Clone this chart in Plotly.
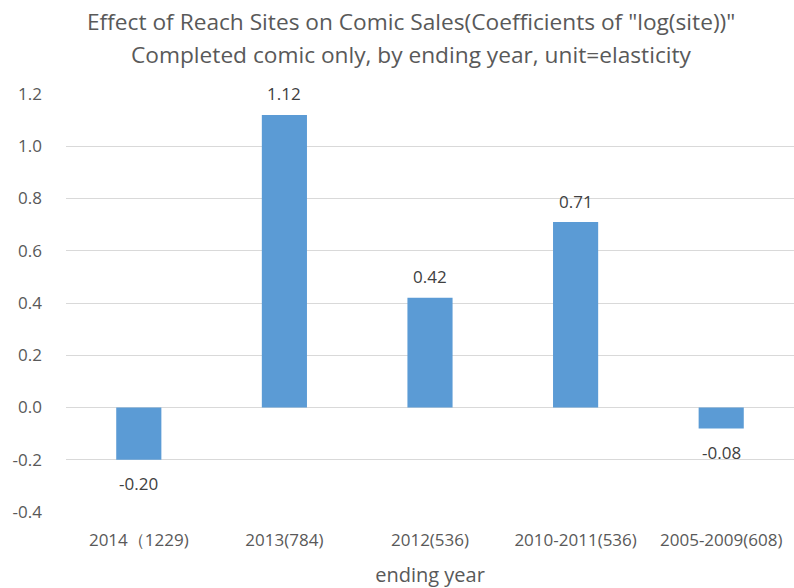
import plotly.graph_objects as go

categories = ["2014（1229)", "2013(784)", "2012(536)", "2010-2011(536)", "2005-2009(608)"]
values = [-0.20, 1.12, 0.42, 0.71, -0.08]
labels = ["-0.20", "1.12", "0.42", "0.71", "-0.08"]
y_ticks = [-0.4, -0.2, 0.0, 0.2, 0.4, 0.6, 0.8, 1.0, 1.2]
y_tick_labels = ["-0.4", "-0.2", "0.0", "0.2", "0.4", "0.6", "0.8", "1.0", "1.2"]
title_lines = [
    "Effect of Reach Sites on Comic Sales(Coefficients of \"log(site))\"",
    "Completed comic only, by ending year, unit=elasticity",
]

FONT = "Open Sans, Noto Sans, sans-serif"
GREY = "#595959"

fig = go.Figure(go.Bar(
    x=categories, y=values,
    marker=dict(color="#5B9BD5", line=dict(width=0)),
    width=0.31, hoverinfo="skip",
))

for cat, val, lab in zip(categories, values, labels):
    fig.add_annotation(
        x=cat, y=val, text=lab, showarrow=False,
        xanchor="center", yanchor="middle",
        yshift=21 if val >= 0 else -24,
        font=dict(size=17, color="#404040", family=FONT),
    )

for line, ypos in zip(title_lines, [1.174, 1.094]):
    fig.add_annotation(
        text=line, xref="paper", yref="paper", x=0.474, y=ypos,
        xanchor="center", yanchor="middle", showarrow=False,
        font=dict(size=22.7, color=GREY, family=FONT),
    )

fig.update_layout(
    width=794, height=588,
    margin=dict(l=66, r=0, t=94, b=76, autoexpand=False),
    paper_bgcolor="white", plot_bgcolor="white",
    showlegend=False,
    font=dict(family=FONT, color=GREY, size=17),
    xaxis=dict(
        title=dict(text="ending year", font=dict(size=20, color=GREY), standoff=17),
        tickfont=dict(size=17, color=GREY),
        showgrid=False, showline=False, ticks="",
        ticklabelstandoff=16, automargin=False,
    ),
    yaxis=dict(
        range=[-0.4, 1.2], tickvals=y_ticks, ticktext=y_tick_labels,
        tickfont=dict(size=17, color=GREY),
        showgrid=True, gridcolor="#D9D9D9", gridwidth=1,
        zeroline=True, zerolinecolor="#D9D9D9", zerolinewidth=1,
        showline=False, ticks="", ticklabelstandoff=23, automargin=False,
    ),
    bargap=0.69,
)

fig.write_html("out.html", config={"displayModeBar": False},
               post_script="document.body.style.margin='0';")
